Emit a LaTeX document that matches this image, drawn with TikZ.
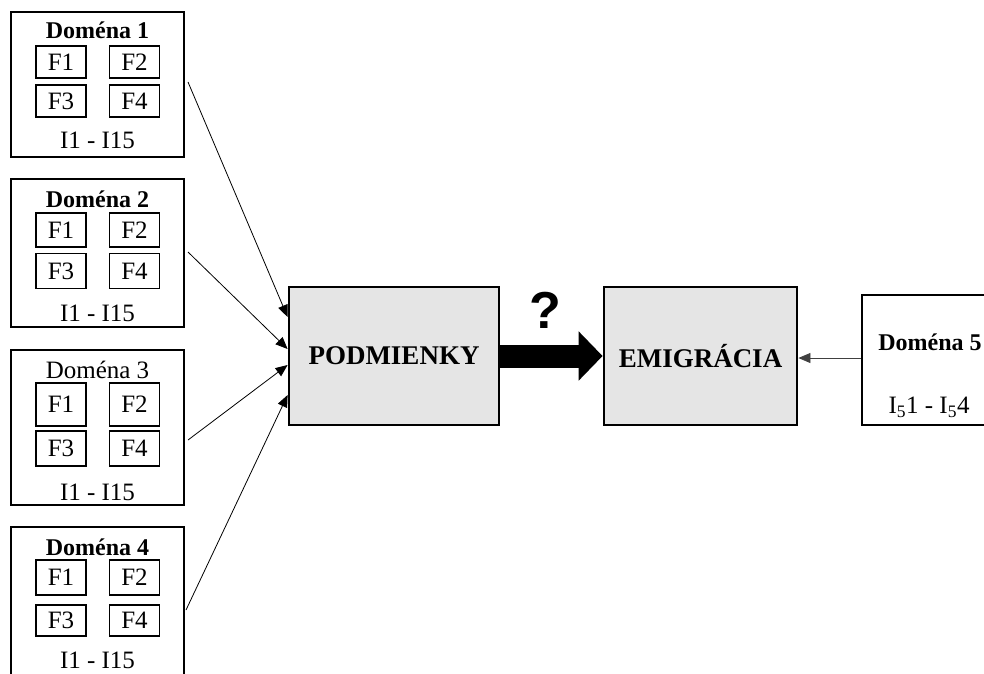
\documentclass[tikz,border=0pt]{standalone}
\usepackage{fontspec}
\setmainfont{Liberation Serif}
\setsansfont{Liberation Sans}
\usetikzlibrary{arrows.meta}
\begin{document}
\begin{tikzpicture}[x=1pt,y=-1pt,
  domainbox/.style={draw,line width=1.4pt,minimum width=173pt,inner sep=0pt},
  fbox/.style={draw,line width=1.8pt,minimum width=50pt,inner sep=0pt,font=\fontsize{25}{27}\selectfont},
  lbl/.style={inner sep=0pt,font=\fontsize{25}{27}\selectfont},
  ttl/.style={inner sep=0pt,font=\fontsize{24}{26}\selectfont\bfseries},
  mainbox/.style={draw,line width=2.8pt,fill=black!10,inner sep=0pt,
    font=\fontsize{27}{29}\selectfont\bfseries},
  thin/.style={line width=0.8pt,-{Triangle[length=12pt,width=10pt]}}
]
\useasboundingbox (0,0) rectangle (984,673);
\clip (0,0) rectangle (984,673);

% ---- Doména 1
\node[domainbox,minimum height=145pt] (d1) at (97.5,84.5) {};
\node[ttl] (d1t) at (97.5,30) {Doména 1};
\node[fbox,minimum height=32pt] (d1a) at (61,62) {F1};
\node[fbox,minimum height=32pt] (d1b) at (134.5,62) {F2};
\node[fbox,minimum height=32pt] (d1c) at (61,101) {F3};
\node[fbox,minimum height=32pt] (d1d) at (134.5,101) {F4};
\node[lbl] (d1i) at (97.5,140) {I1 - I15};

% ---- Doména 2
\node[domainbox,minimum height=148pt] (d2) at (97.5,253) {};
\node[ttl] (d2t) at (97.5,199) {Doména 2};
\node[fbox,minimum height=34pt] (d2a) at (61,230) {F1};
\node[fbox,minimum height=34pt] (d2b) at (134.5,230) {F2};
\node[fbox,minimum height=35pt] (d2c) at (61,271) {F3};
\node[fbox,minimum height=35pt] (d2d) at (134.5,271) {F4};
\node[lbl] (d2i) at (97.5,313) {I1 - I15};

% ---- Doména 3
\node[domainbox,minimum height=155pt] (d3) at (97.5,427.5) {};
\node[lbl] (d3t) at (97.5,370) {Doména 3};
\node[fbox,minimum height=43pt] (d3a) at (61,404.5) {F1};
\node[fbox,minimum height=43pt] (d3b) at (134.5,404.5) {F2};
\node[fbox,minimum height=35pt] (d3c) at (61,448.5) {F3};
\node[fbox,minimum height=35pt] (d3d) at (134.5,448.5) {F4};
\node[lbl] (d3i) at (97.5,492) {I1 - I15};

% ---- Doména 4 (runs past the lower edge)
\node[domainbox,minimum height=170pt] (d4) at (97.5,612) {};
\node[ttl] (d4t) at (97.5,547) {Doména 4};
\node[fbox,minimum height=35pt] (d4a) at (61,577.5) {F1};
\node[fbox,minimum height=35pt] (d4b) at (134.5,577.5) {F2};
\node[fbox,minimum height=31pt] (d4c) at (61,620.5) {F3};
\node[fbox,minimum height=31pt] (d4d) at (134.5,620.5) {F4};
\node[lbl] (d4i) at (97.5,660) {I1 - I15};

% ---- central blocks
\node[mainbox,minimum width=210pt,minimum height=138pt] (pod) at (394,356) {PODMIENKY};
\node[mainbox,minimum width=193pt,minimum height=138pt] (emi) at (700.5,356) {EMIGRÁCIA};

% ---- Doména 5 (runs past the right edge)
\node[domainbox,minimum width=150pt,minimum height=130pt] (d5) at (937,360) {};
\node[ttl] (d5t) at (930,342) {Doména 5};
\node[lbl] (d5i) at (929,407) {I\textsubscript{5}1 - I\textsubscript{5}4};

% ---- connectors
\coordinate (s1) at (188,82);
\coordinate (s2) at (188,252);
\coordinate (s3) at (188,440);
\coordinate (s4) at (186,610);
\coordinate (t1) at (pod.west |- 0,317);
\coordinate (t2) at (pod.west |- 0,349);
\coordinate (t3) at (pod.west |- 0,365);
\coordinate (t4) at (pod.west |- 0,395);
\draw[thin] (s1) -- (t1);
\draw[thin] (s2) -- (t2);
\draw[thin] (s3) -- (t3);
\draw[thin] (s4) -- (t4);

\draw[line width=23pt,-{Triangle[length=24pt,width=48pt]}] (pod.east) -- (emi.west);
\node[inner sep=0pt,font=\fontsize{52}{54}\selectfont\sffamily\bfseries] (q) at (545,310) {?};

\coordinate (d5w) at (d5.west |- 0,358);
\draw[thin,draw=black!75] (d5w) -- (emi.east |- d5w);
\end{tikzpicture}
\end{document}
